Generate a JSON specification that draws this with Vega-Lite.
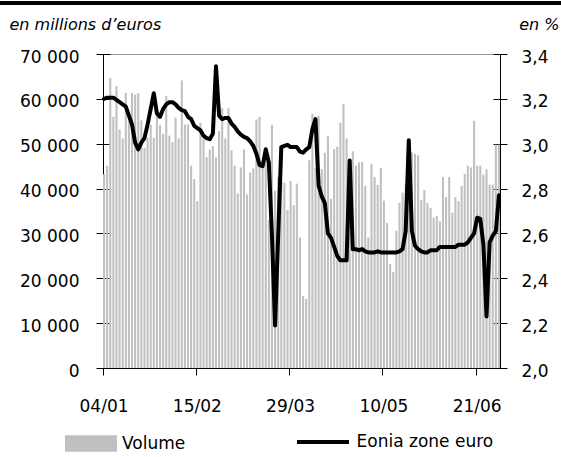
{
  "$schema": "https://vega.github.io/schema/vega-lite/v6.json",
  "autosize": {"type": "pad"},
  "padding": 0,
  "background": "white",
  "config": {
    "font": "DejaVu Sans",
    "view": {"stroke": null},
    "locale": {"number": {"decimal": ",", "thousands": " ", "grouping": [3], "currency": ["", " €"]}}
  },
  "datasets": {
    "d": [
      {"date": "04/01", "vol": 43200, "eonia": 3.2},
      {"date": "05/01", "vol": 45100, "eonia": 3.205},
      {"date": "06/01", "vol": 64700, "eonia": 3.205},
      {"date": "07/01", "vol": 56000, "eonia": 3.205},
      {"date": "08/01", "vol": 62800, "eonia": 3.195},
      {"date": "11/01", "vol": 53200, "eonia": 3.185},
      {"date": "12/01", "vol": 51200, "eonia": 3.175},
      {"date": "13/01", "vol": 61300, "eonia": 3.165},
      {"date": "14/01", "vol": 55100, "eonia": 3.125},
      {"date": "15/01", "vol": 61300, "eonia": 3.085},
      {"date": "18/01", "vol": 60900, "eonia": 3.005},
      {"date": "19/01", "vol": 61300, "eonia": 2.975},
      {"date": "20/01", "vol": 55200, "eonia": 3.005},
      {"date": "21/01", "vol": 49100, "eonia": 3.025},
      {"date": "22/01", "vol": 51300, "eonia": 3.085},
      {"date": "25/01", "vol": 54200, "eonia": 3.155},
      {"date": "26/01", "vol": 51300, "eonia": 3.225},
      {"date": "27/01", "vol": 56800, "eonia": 3.135},
      {"date": "28/01", "vol": 54200, "eonia": 3.12},
      {"date": "29/01", "vol": 52200, "eonia": 3.155},
      {"date": "01/02", "vol": 60700, "eonia": 3.175},
      {"date": "02/02", "vol": 51800, "eonia": 3.185},
      {"date": "03/02", "vol": 50400, "eonia": 3.185},
      {"date": "04/02", "vol": 55800, "eonia": 3.175},
      {"date": "05/02", "vol": 51200, "eonia": 3.16},
      {"date": "08/02", "vol": 64100, "eonia": 3.15},
      {"date": "09/02", "vol": 54300, "eonia": 3.145},
      {"date": "10/02", "vol": 54300, "eonia": 3.12},
      {"date": "11/02", "vol": 45100, "eonia": 3.11},
      {"date": "12/02", "vol": 42100, "eonia": 3.08},
      {"date": "15/02", "vol": 37200, "eonia": 3.07},
      {"date": "16/02", "vol": 54700, "eonia": 3.06},
      {"date": "17/02", "vol": 51200, "eonia": 3.035},
      {"date": "18/02", "vol": 47000, "eonia": 3.025},
      {"date": "19/02", "vol": 48700, "eonia": 3.02},
      {"date": "22/02", "vol": 49500, "eonia": 3.045},
      {"date": "23/02", "vol": 47000, "eonia": 3.345},
      {"date": "24/02", "vol": 52800, "eonia": 3.125},
      {"date": "25/02", "vol": 57900, "eonia": 3.11},
      {"date": "26/02", "vol": 51200, "eonia": 3.115},
      {"date": "01/03", "vol": 57900, "eonia": 3.115},
      {"date": "02/03", "vol": 48500, "eonia": 3.09},
      {"date": "03/03", "vol": 45100, "eonia": 3.075},
      {"date": "04/03", "vol": 38900, "eonia": 3.055},
      {"date": "05/03", "vol": 44700, "eonia": 3.04},
      {"date": "08/03", "vol": 48700, "eonia": 3.03},
      {"date": "09/03", "vol": 38700, "eonia": 3.025},
      {"date": "10/03", "vol": 43600, "eonia": 3.01},
      {"date": "11/03", "vol": 44500, "eonia": 2.99},
      {"date": "12/03", "vol": 55400, "eonia": 2.955},
      {"date": "15/03", "vol": 56000, "eonia": 2.905},
      {"date": "16/03", "vol": 44700, "eonia": 2.9},
      {"date": "17/03", "vol": 48200, "eonia": 2.975},
      {"date": "18/03", "vol": 33000, "eonia": 2.915},
      {"date": "19/03", "vol": 54200, "eonia": 2.59},
      {"date": "22/03", "vol": 39500, "eonia": 2.19},
      {"date": "23/03", "vol": 42600, "eonia": 2.59},
      {"date": "24/03", "vol": 41700, "eonia": 2.985},
      {"date": "25/03", "vol": 41300, "eonia": 2.99},
      {"date": "26/03", "vol": 35200, "eonia": 2.995},
      {"date": "29/03", "vol": 41700, "eonia": 2.985},
      {"date": "30/03", "vol": 36300, "eonia": 2.985},
      {"date": "31/03", "vol": 41100, "eonia": 2.985},
      {"date": "01/04", "vol": 29100, "eonia": 2.965},
      {"date": "02/04", "vol": 16000, "eonia": 2.96},
      {"date": "05/04", "vol": 15400, "eonia": 2.975},
      {"date": "06/04", "vol": 46300, "eonia": 2.985},
      {"date": "07/04", "vol": 56700, "eonia": 3.065},
      {"date": "08/04", "vol": 44700, "eonia": 3.11},
      {"date": "09/04", "vol": 56200, "eonia": 2.815},
      {"date": "12/04", "vol": 44300, "eonia": 2.765},
      {"date": "13/04", "vol": 48000, "eonia": 2.735},
      {"date": "14/04", "vol": 51700, "eonia": 2.6},
      {"date": "15/04", "vol": 37700, "eonia": 2.58},
      {"date": "16/04", "vol": 48800, "eonia": 2.54},
      {"date": "19/04", "vol": 49300, "eonia": 2.5},
      {"date": "20/04", "vol": 54700, "eonia": 2.48},
      {"date": "21/04", "vol": 58900, "eonia": 2.48},
      {"date": "22/04", "vol": 51200, "eonia": 2.48},
      {"date": "23/04", "vol": 46600, "eonia": 2.925},
      {"date": "26/04", "vol": 48300, "eonia": 2.53},
      {"date": "27/04", "vol": 45100, "eonia": 2.53},
      {"date": "28/04", "vol": 45800, "eonia": 2.525},
      {"date": "29/04", "vol": 45900, "eonia": 2.53},
      {"date": "30/04", "vol": 40600, "eonia": 2.52},
      {"date": "03/05", "vol": 29100, "eonia": 2.515},
      {"date": "04/05", "vol": 45500, "eonia": 2.515},
      {"date": "05/05", "vol": 42600, "eonia": 2.515},
      {"date": "06/05", "vol": 40800, "eonia": 2.52},
      {"date": "07/05", "vol": 44600, "eonia": 2.515},
      {"date": "10/05", "vol": 37300, "eonia": 2.515},
      {"date": "11/05", "vol": 32300, "eonia": 2.515},
      {"date": "12/05", "vol": 23200, "eonia": 2.515},
      {"date": "13/05", "vol": 21400, "eonia": 2.515},
      {"date": "14/05", "vol": 30600, "eonia": 2.515},
      {"date": "17/05", "vol": 36800, "eonia": 2.52},
      {"date": "18/05", "vol": 39100, "eonia": 2.53},
      {"date": "19/05", "vol": 41100, "eonia": 2.61},
      {"date": "20/05", "vol": 48300, "eonia": 3.015},
      {"date": "21/05", "vol": 48000, "eonia": 2.61},
      {"date": "24/05", "vol": 47700, "eonia": 2.545},
      {"date": "25/05", "vol": 47400, "eonia": 2.53},
      {"date": "26/05", "vol": 37400, "eonia": 2.52},
      {"date": "27/05", "vol": 39700, "eonia": 2.515},
      {"date": "28/05", "vol": 36800, "eonia": 2.515},
      {"date": "31/05", "vol": 35700, "eonia": 2.525},
      {"date": "01/06", "vol": 33500, "eonia": 2.525},
      {"date": "02/06", "vol": 33900, "eonia": 2.525},
      {"date": "03/06", "vol": 32700, "eonia": 2.54},
      {"date": "04/06", "vol": 42600, "eonia": 2.54},
      {"date": "07/06", "vol": 38100, "eonia": 2.54},
      {"date": "08/06", "vol": 42600, "eonia": 2.54},
      {"date": "09/06", "vol": 34600, "eonia": 2.54},
      {"date": "10/06", "vol": 38100, "eonia": 2.54},
      {"date": "11/06", "vol": 37200, "eonia": 2.55},
      {"date": "14/06", "vol": 40600, "eonia": 2.55},
      {"date": "15/06", "vol": 43300, "eonia": 2.55},
      {"date": "16/06", "vol": 45100, "eonia": 2.56},
      {"date": "17/06", "vol": 44700, "eonia": 2.58},
      {"date": "18/06", "vol": 55100, "eonia": 2.6},
      {"date": "21/06", "vol": 45100, "eonia": 2.67},
      {"date": "22/06", "vol": 45100, "eonia": 2.665},
      {"date": "23/06", "vol": 43100, "eonia": 2.55},
      {"date": "24/06", "vol": 44300, "eonia": 2.23},
      {"date": "25/06", "vol": 40900, "eonia": 2.56},
      {"date": "28/06", "vol": 40900, "eonia": 2.59},
      {"date": "29/06", "vol": 49800, "eonia": 2.61},
      {"date": "30/06", "vol": 49800, "eonia": 2.77}
    ]
  },
  "bounds": "flush",
  "spacing": 49,
  "vconcat": [
    {
      "width": 561,
      "height": 4,
      "data": {"values": [{"k": 1}]},
      "mark": {"type": "point", "opacity": 0},
      "encoding": {},
      "view": {"fill": "black", "stroke": null}
    },
    {
      "bounds": "flush",
      "spacing": 0,
      "hconcat": [
        {
          "width": 103,
          "height": 314,
          "data": {"values": [{"k": 1}]},
          "mark": {"type": "point", "opacity": 0},
          "encoding": {},
          "view": {"stroke": null}
        },
        {
          "width": 397,
          "height": 314,
          "view": {"stroke": "#999999", "strokeWidth": 1},
          "data": {"name": "d"},
          "resolve": {"scale": {"y": "independent", "fill": "independent", "stroke": "independent"}},
          "encoding": {
            "x": {
              "field": "date",
              "type": "ordinal",
              "sort": null,
              "scale": {"type": "band", "paddingInner": 0.33, "paddingOuter": 0},
              "axis": {
                "values": ["04/01", "15/02", "29/03", "10/05", "21/06"],
                "bandPosition": 0,
                "labelAngle": 0,
                "labelFontSize": 17,
                "labelPadding": 23,
                "labelColor": "black",
                "tickSize": 7,
                "tickColor": "black",
                "domainColor": "black",
                "grid": false,
                "title": null
              }
            }
          },
          "layer": [
            {
              "mark": {"type": "bar"},
              "encoding": {
                "y": {
                  "field": "vol",
                  "type": "quantitative",
                  "scale": {"domain": [0, 70000], "nice": false},
                  "axis": {
                    "orient": "left",
                    "values": [0, 10000, 20000, 30000, 40000, 50000, 60000, 70000],
                    "format": ",.0f",
                    "labelFontSize": 17,
                    "labelPadding": 17,
                    "labelOffset": 3,
                    "labelColor": "black",
                    "tickSize": 7,
                    "tickColor": "black",
                    "domainColor": "black",
                    "grid": false,
                    "title": "en millions d’euros",
                    "titleAngle": 0,
                    "titleFontSize": 16,
                    "titleFontStyle": "italic",
                    "titleFontWeight": "normal",
                    "titleColor": "black",
                    "titleX": -94,
                    "titleY": -25,
                    "titleAlign": "left",
                    "titleBaseline": "alphabetic"
                  }
                },
                "fill": {
                  "datum": "Volume",
                  "type": "nominal",
                  "scale": {"range": ["#c0c0c0"]},
                  "legend": {
                    "orient": "none",
                    "legendX": -38,
                    "legendY": 363.5,
                    "title": null,
                    "padding": 0,
                    "symbolType": "M-1,-0.32H1V0.32H-1Z",
                    "symbolSize": 2704,
                    "symbolStrokeWidth": 0,
                    "symbolOpacity": 1,
                    "labelFontSize": 17,
                    "labelColor": "black",
                    "labelOffset": 5
                  }
                }
              }
            },
            {
              "mark": {"type": "point", "opacity": 0},
              "encoding": {
                "y": {
                  "field": "vol",
                  "type": "quantitative",
                  "scale": {"domain": [0, 70000], "nice": false},
                  "axis": {
                    "orient": "left",
                    "values": [0, 10000, 20000, 30000, 40000, 50000, 60000, 70000],
                    "labels": false,
                    "domain": false,
                    "grid": false,
                    "tickSize": 7,
                    "tickColor": "black",
                    "offset": -7,
                    "title": null
                  }
                }
              }
            },
            {
              "mark": {"type": "line", "strokeWidth": 4, "strokeJoin": "round", "strokeCap": "round"},
              "encoding": {
                "y": {
                  "field": "eonia",
                  "type": "quantitative",
                  "scale": {"domain": [2, 3.4], "nice": false, "zero": false},
                  "axis": {
                    "orient": "right",
                    "values": [2, 2.2, 2.4, 2.6, 2.8, 3, 3.2, 3.4],
                    "format": ".1f",
                    "labelFontSize": 17,
                    "labelPadding": 14,
                    "labelOffset": 3,
                    "labelColor": "black",
                    "tickSize": 7,
                    "tickColor": "black",
                    "domainColor": "black",
                    "grid": false,
                    "title": "en %",
                    "titleAngle": 0,
                    "titleFontSize": 16,
                    "titleFontStyle": "italic",
                    "titleFontWeight": "normal",
                    "titleColor": "black",
                    "titleX": 59,
                    "titleY": -25,
                    "titleAlign": "right",
                    "titleBaseline": "alphabetic"
                  }
                },
                "stroke": {
                  "datum": "Eonia zone euro",
                  "type": "nominal",
                  "scale": {"range": ["black"]},
                  "legend": {
                    "orient": "none",
                    "legendX": 192,
                    "legendY": 360,
                    "title": null,
                    "padding": 0,
                    "symbolType": "stroke",
                    "symbolSize": 2704,
                    "symbolStrokeWidth": 4,
                    "labelFontSize": 17,
                    "labelColor": "black",
                    "labelOffset": 5.5
                  }
                }
              }
            },
            {
              "mark": {"type": "point", "opacity": 0},
              "encoding": {
                "y": {
                  "field": "eonia",
                  "type": "quantitative",
                  "scale": {"domain": [2, 3.4], "nice": false, "zero": false},
                  "axis": {
                    "orient": "right",
                    "values": [2, 2.2, 2.4, 2.6, 2.8, 3, 3.2, 3.4],
                    "labels": false,
                    "domain": false,
                    "grid": false,
                    "tickSize": 7,
                    "tickColor": "black",
                    "offset": -7,
                    "title": null
                  }
                }
              }
            }
          ]
        }
      ]
    }
  ]
}
